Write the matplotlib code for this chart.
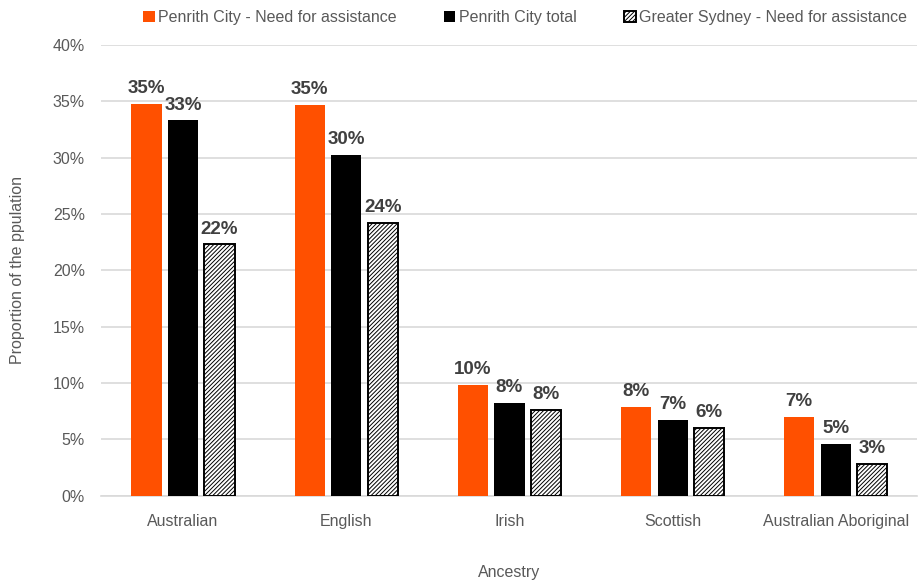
import matplotlib.pyplot as plt
import numpy as np

# values (percent of population)
ancestries = ["Australian", "English", "Irish", "Scottish", "Australian Aboriginal"]
penrith_need = [34.8, 34.7, 9.8, 7.9, 7.0]
penrith_total = [33.3, 30.2, 8.2, 6.7, 4.6]
sydney_need = [22.3, 24.2, 7.6, 6.0, 2.8]
series_names = ["Penrith City - Need for assistance", "Penrith City total",
                "Greater Sydney - Need for assistance"]
y_ticks = [0, 5, 10, 15, 20, 25, 30, 35, 40]

plt.rcParams["font.family"] = ["Liberation Sans", "DejaVu Sans"]
plt.rcParams["hatch.linewidth"] = 0.7
grey_text = "#595959"

fig = plt.figure(figsize=(9.22, 5.84), dpi=100)
ax = fig.add_axes([0.110, 0.151, 0.885, 0.772])

x = np.arange(len(ancestries))
w = 0.185   # bar width
step = 0.224  # distance between bars in a group

b1 = ax.bar(x - step, penrith_need, w, color="#FF5000", label=series_names[0], zorder=3)
b2 = ax.bar(x, penrith_total, w, color="black", label=series_names[1], zorder=3)
b3 = ax.bar(x + step, sydney_need, w, color="white", edgecolor="black", hatch="////////",
            linewidth=1.4, label=series_names[2], zorder=3)

# data labels
for bars in (b1, b2, b3):
    for bar in bars:
        h = bar.get_height()
        ax.annotate(f"{h:.0f}%", (bar.get_x() + bar.get_width() / 2, h),
                    xytext=(0, 5), textcoords="offset points", ha="center", va="bottom",
                    fontsize=13.5, fontweight="bold", color="#404040")

ax.set_ylim(0, 40)
ax.set_xlim(-0.5, len(ancestries) - 0.5)
ax.set_yticks(y_ticks)
ax.set_yticklabels([f"{t}%" for t in y_ticks])
ax.set_xticks(x)
ax.set_xticklabels(ancestries)
ax.tick_params(axis="both", length=0, labelsize=11.5, colors=grey_text)
ax.tick_params(axis="x", pad=13)
ax.tick_params(axis="y", pad=12)
ax.grid(axis="y", color="#D9D9D9", linewidth=1.2, zorder=0)
for side in ("top", "right", "left"):
    ax.spines[side].set_visible(False)
ax.spines["bottom"].set_color("#D9D9D9")
ax.spines["bottom"].set_linewidth(1.2)

ax.set_ylabel("Proportion of the ppulation", fontsize=11.5, color=grey_text, labelpad=20)
ax.set_xlabel("Ancestry", fontsize=11.5, color=grey_text, labelpad=26)

fig.legend(handles=[b1, b2, b3], loc="upper right", bbox_to_anchor=(0.999, 1.008), ncol=3,
           frameon=False, fontsize=11.5, handlelength=0.7, handleheight=0.7,
           handletextpad=0.2, columnspacing=3.0, labelcolor=grey_text)

fig.savefig("out.png", dpi=100)
